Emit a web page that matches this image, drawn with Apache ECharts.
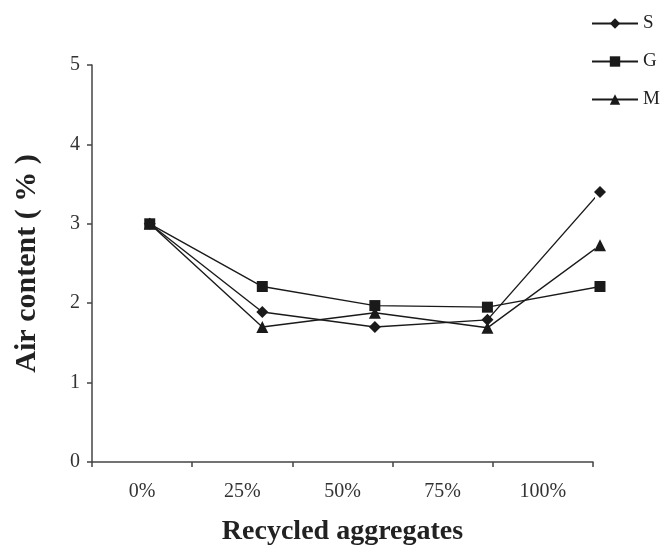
<!DOCTYPE html>
<html><head><meta charset="utf-8">
<script src="https://cdn.jsdelivr.net/npm/echarts@6/dist/echarts.min.js"></script>
<style>html,body{margin:0;padding:0;background:#fff}#c{width:665px;height:549px}</style>
</head><body><div id="c"></div>
<script>
const categories = ['0%', '25%', '50%', '75%', '100%'];
const sValues = [3.0, 1.89, 1.70, 1.79, 3.40];
const gValues = [3.0, 2.21, 1.97, 1.95, 2.21];
const mValues = [3.0, 1.70, 1.88, 1.69, 2.73];
const yTicks = [0, 1, 2, 3, 4, 5];

const chart = echarts.init(document.getElementById('c'));
const font = '"Liberation Serif", "Times New Roman", serif';
const axisCol = '#444';
const ink = '#1a1a1a';
function pts(arr){ return arr.map((v,i)=>[i, v]); }
function ser(name, data, symbol, size){
  return {name, type:'line', xAxisIndex:1, data:pts(data), symbol, symbolSize:size,
    clip:false, lineStyle:{color:ink, width:1.4}, itemStyle:{color:ink}, showSymbol:true};
}
chart.setOption({
  animation:false,
  backgroundColor:'#fff',
  grid:{left:92, right:72, top:65, bottom:87, outerBoundsMode:'none', containLabel:false},
  legend:{orient:'vertical', left:586, top:9, itemGap:19, itemWidth:46, itemHeight:13,
    textStyle:{fontFamily:font, fontSize:19, color:'#222'},
    data:['S','G','M']},
  xAxis:[{
    type:'category', data:categories, boundaryGap:true,
    axisLine:{onZero:false, lineStyle:{color:axisCol, width:1.5}},
    axisTick:{show:true, length:5, lineStyle:{color:axisCol, width:1.5}},
    axisLabel:{fontFamily:font, fontSize:20, color:'#333', margin:20},
    name:'Recycled aggregates', nameLocation:'middle', nameGap:56,
    nameTextStyle:{fontFamily:font, fontSize:28, fontWeight:'bold', color:'#222'}
  },{
    type:'value', min:-0.513, max:3.938, show:false
  }],
  yAxis:{
    type:'value', min:yTicks[0], max:yTicks[yTicks.length-1], interval:1,
    splitLine:{show:false},
    axisLine:{show:true, onZero:false, lineStyle:{color:axisCol, width:1.5}},
    axisTick:{show:true, length:5, lineStyle:{color:axisCol, width:1.5}},
    axisLabel:{fontFamily:font, fontSize:20, color:'#333', margin:12},
    name:'Air content ( % )', nameLocation:'middle', nameGap:50, nameRotate:90,
    nameTextStyle:{fontFamily:font, fontSize:30, fontWeight:'bold', color:'#222'}
  },
  series:[
    ser('S', sValues, 'diamond', 12),
    ser('G', gValues, 'rect', 11),
    ser('M', mValues, 'triangle', 12)
  ]
});
</script></body></html>
